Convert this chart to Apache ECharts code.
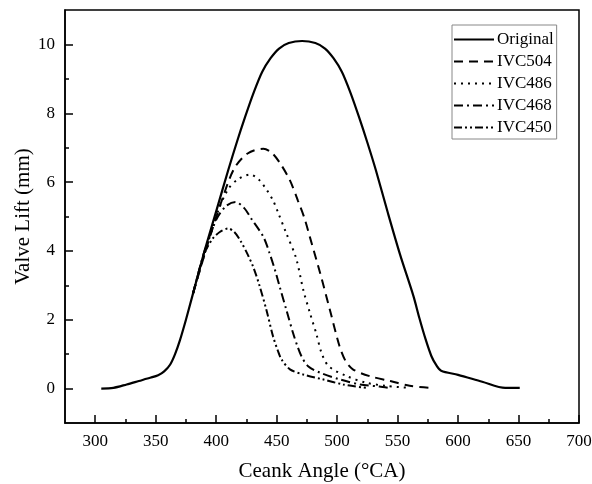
<!DOCTYPE html>
<html>
<head>
<meta charset="utf-8">
<script src="https://cdn.jsdelivr.net/npm/echarts@6/dist/echarts.min.js"></script>
<style>
html,body{margin:0;padding:0;background:#fff;}
#chart{width:592px;height:484px;}
</style>
</head>
<body>
<div id="chart"></div>
<script>
// ---- Data ----
const seriesNames = ['Original', 'IVC504', 'IVC486', 'IVC468', 'IVC450'];

const originalAngle = [305, 315, 326, 336, 346, 352, 357, 362, 366, 370, 375, 380, 390, 400, 410, 417, 424, 431, 438, 445, 452, 460, 471, 482, 490, 497, 504, 511, 518, 525, 532, 542, 552, 563, 568, 573, 578, 582, 586, 600, 620, 639, 651];
const originalLift  = [0, 0.02, 0.12, 0.22, 0.32, 0.39, 0.5, 0.7, 1.0, 1.4, 2.0, 2.65, 3.95, 5.15, 6.35, 7.15, 7.9, 8.6, 9.2, 9.6, 9.88, 10.04, 10.1, 10.04, 9.88, 9.6, 9.2, 8.6, 7.9, 7.15, 6.35, 5.1, 3.9, 2.7, 2.05, 1.45, 0.94, 0.68, 0.52, 0.4, 0.2, 0.02, 0.02];

const ivc504Angle = [381, 393, 405, 415, 426, 439, 446, 453, 461, 467.5, 473, 477.5, 486, 494, 502, 507, 513, 527, 544, 560, 578];
const ivc504Lift  = [2.78, 4.2, 5.5, 6.4, 6.83, 6.97, 6.85, 6.54, 6.05, 5.47, 4.95, 4.4, 3.35, 2.29, 1.23, 0.8, 0.56, 0.36, 0.22, 0.08, 0.02];

const ivc486Angle = [381, 392, 402, 410, 418, 428, 435, 442, 447, 451, 458, 466, 472, 477.5, 483, 487, 493, 508, 524, 540, 560];
const ivc486Lift  = [2.78, 4.1, 5.2, 5.8, 6.08, 6.22, 6.08, 5.76, 5.47, 5.13, 4.51, 3.8, 2.87, 2.2, 1.57, 1.05, 0.65, 0.36, 0.17, 0.08, 0.02];

const ivc468Angle = [381, 390, 400, 408, 416, 423, 429, 439, 444, 449, 453, 458, 463.5, 467, 470.5, 476, 486, 502, 519, 535, 543];
const ivc468Lift  = [2.78, 3.95, 4.9, 5.3, 5.42, 5.25, 4.94, 4.41, 3.95, 3.4, 2.9, 2.29, 1.62, 1.25, 0.94, 0.65, 0.46, 0.27, 0.12, 0.06, 0.02];

const ivc450Angle = [381, 390, 397, 403, 410, 415, 420, 426, 431, 436, 441.5, 447, 451, 454, 461, 472, 488, 505, 524];
const ivc450Lift  = [2.78, 3.9, 4.35, 4.55, 4.65, 4.55, 4.3, 3.9, 3.5, 2.97, 2.29, 1.52, 1.1, 0.85, 0.56, 0.41, 0.27, 0.12, 0.02];

const xMajorTicks = [300, 350, 400, 450, 500, 550, 600, 650, 700];
const xMinorTicks = [325, 375, 425, 475, 525, 575, 625, 675];
const yMajorTicks = [0, 2, 4, 6, 8, 10];
const yMinorTicks = [1, 3, 5, 7, 9];

// ---- Build ----
function zip(a, b) { return a.map((v, i) => [v, b[i]]); }
const dataSets = [
  zip(originalAngle, originalLift),
  zip(ivc504Angle, ivc504Lift),
  zip(ivc486Angle, ivc486Lift),
  zip(ivc468Angle, ivc468Lift),
  zip(ivc450Angle, ivc450Lift)
];
const dashTypes = ['solid', [9, 6], [2, 5], [9, 4, 2, 4], [8, 3, 2, 3, 2, 3]];

const FONT = '"Liberation Serif", "DejaVu Serif", serif';

const chart = echarts.init(document.getElementById('chart'), null, {renderer: 'canvas'});

const series = seriesNames.map((name, i) => ({
  name: name,
  type: 'line',
  xAxisIndex: 0,
  yAxisIndex: 0,
  data: dataSets[i],
  symbol: 'none',
  showSymbol: false,
  smooth: 0.3,
  lineStyle: {color: '#000', width: i === 0 ? 2.2 : 2, type: dashTypes[i]},
  itemStyle: {color: '#000'},
  emphasis: {disabled: true},
  animation: false,
  z: 5 - i
}));

const tickStyle = {color: '#000', width: 1.5};

const option = {
  backgroundColor: '#ffffff',
  animation: false,
  grid: {left: 65, right: 13, top: 10, bottom: 61, show: true, borderColor: '#000', borderWidth: 1.5, outerBoundsMode: 'none', containLabel: false},
  legend: {
    orient: 'vertical',
    left: 452,
    top: 25,
    data: seriesNames,
    itemWidth: 40,
    itemHeight: 12,
    itemGap: 5,
    padding: [6, 3, 3, 1],
    borderColor: '#888',
    borderWidth: 1,
    backgroundColor: '#fff',
    itemStyle: {color: 'rgba(0,0,0,0)', borderWidth: 0, opacity: 0},
    textStyle: {fontFamily: FONT, fontSize: 17, lineHeight: 17, color: '#000', padding: [0, 0, 0, -2]}
  },
  xAxis: [
    {
      type: 'value', min: 275, max: 700, position: 'bottom',
      name: 'Ceank Angle (°CA)', nameLocation: 'middle', nameGap: 38, nameMoveOverlap: false,
      nameTextStyle: {fontFamily: FONT, fontSize: 21, color: '#000'},
      axisLine: {show: true, onZero: false, lineStyle: tickStyle},
      axisTick: {show: true, inside: true, length: 8, lineStyle: tickStyle, customValues: xMajorTicks},
      axisLabel: {show: true, margin: 10, fontFamily: FONT, fontSize: 17, color: '#000', customValues: xMajorTicks},
      splitLine: {show: false}
    },
    {
      type: 'value', min: 275, max: 700, position: 'bottom',
      axisLine: {show: false, onZero: false},
      axisTick: {show: true, inside: true, length: 4, lineStyle: tickStyle, customValues: xMinorTicks},
      axisLabel: {show: false},
      splitLine: {show: false}
    }
  ],
  yAxis: [
    {
      type: 'value', min: -1, max: 11, position: 'left',
      name: 'Valve Lift (mm)', nameLocation: 'middle', nameGap: 31, nameRotate: 90, nameMoveOverlap: false,
      nameTextStyle: {fontFamily: FONT, fontSize: 21, color: '#000'},
      axisLine: {show: true, onZero: false, lineStyle: tickStyle},
      axisTick: {show: true, inside: true, length: 8, lineStyle: tickStyle, customValues: yMajorTicks},
      axisLabel: {show: true, margin: 10, fontFamily: FONT, fontSize: 17, color: '#000', customValues: yMajorTicks},
      splitLine: {show: false}
    },
    {
      type: 'value', min: -1, max: 11, position: 'left',
      axisLine: {show: false, onZero: false},
      axisTick: {show: true, inside: true, length: 4, lineStyle: tickStyle, customValues: yMinorTicks},
      axisLabel: {show: false},
      splitLine: {show: false}
    }
  ],
  series: series
};
chart.setOption(option);
</script>
</body>
</html>
